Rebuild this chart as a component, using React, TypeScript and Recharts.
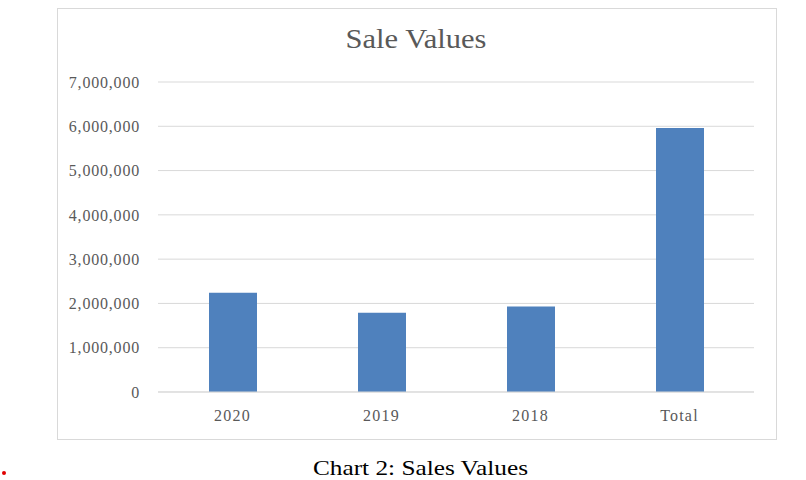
import React from "react";
import { BarChart, Bar, XAxis, YAxis, CartesianGrid } from "recharts";

const categories = ["2020", "2019", "2018", "Total"];
const saleValues = [2240000, 1790000, 1930000, 5960000];
const yTicks = [0, 1000000, 2000000, 3000000, 4000000, 5000000, 6000000, 7000000];

const data = categories.map((c, i) => ({ name: c, value: saleValues[i] }));

const fmt = (v: number) => v.toLocaleString("en-US");

const SERIF = "'Liberation Serif', 'Times New Roman', serif";

export default function App() {
  return (
    <div style={{ position: "absolute", left: 0, top: 0, width: 806, height: 480, background: "#fff" }}>
      <div
        style={{
          position: "absolute",
          left: 57,
          top: 8,
          width: 718,
          height: 430,
          border: "1px solid #d9d9d9",
          boxSizing: "content-box",
        }}
      />
      <div style={{ position: "absolute", left: 0, top: 0 }}>
        <BarChart
          width={806}
          height={480}
          data={data}
          margin={{ top: 82, right: 52, bottom: 0, left: 0 }}
        >
          <CartesianGrid vertical={false} stroke="#d9d9d9" strokeWidth={1} />
          <XAxis
            dataKey="name"
            height={88}
            tickLine={false}
            tickSize={0}
            tickMargin={18}
            axisLine={{ stroke: "#d9d9d9" }}
            tick={{ fill: "#595959", fontSize: 16, fontFamily: SERIF, letterSpacing: 1.2 }}
          />
          <YAxis
            width={158}
            domain={[0, 7000000]}
            ticks={yTicks}
            tickFormatter={fmt}
            axisLine={false}
            tickLine={false}
            tickSize={0}
            tickMargin={18}
            tick={{ fill: "#595959", fontSize: 16, fontFamily: SERIF, letterSpacing: 0.8 }}
          />
          <Bar dataKey="value" fill="#4f81bd" barSize={48} isAnimationActive={false} />
        </BarChart>
      </div>
      <svg width={806} height={480} style={{ position: "absolute", left: 0, top: 0, pointerEvents: "none" }}>
        <text
          x={416}
          y={48}
          textAnchor="middle"
          fontFamily={SERIF}
          fontSize={27}
          fill="#595959"
          textLength={141}
          lengthAdjust="spacingAndGlyphs"
        >
          Sale Values
        </text>
        <text
          x={420.5}
          y={475}
          textAnchor="middle"
          fontFamily={SERIF}
          fontSize={21}
          fill="#000"
          textLength={215}
          lengthAdjust="spacingAndGlyphs"
        >
          Chart 2: Sales Values
        </text>
        <circle cx={4} cy={473} r={2} fill="#e00000" />
      </svg>
    </div>
  );
}
